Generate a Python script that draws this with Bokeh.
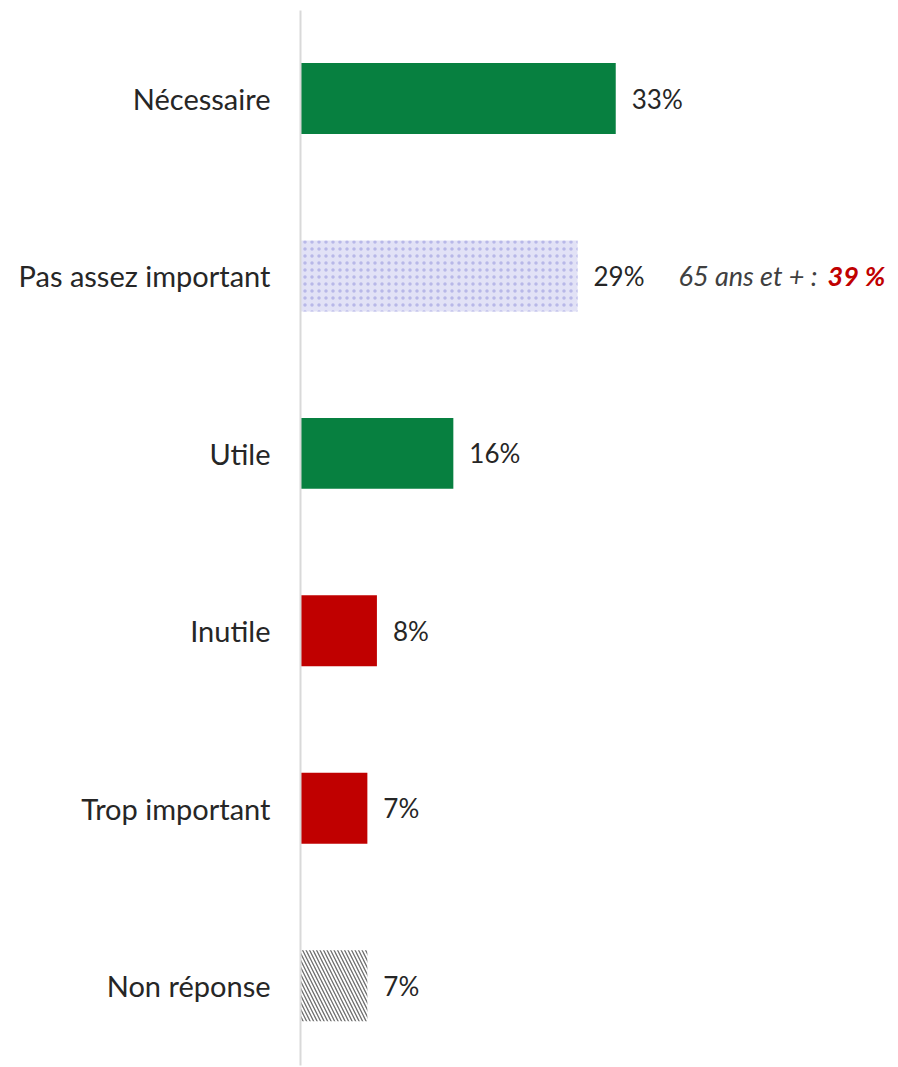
from bokeh.plotting import figure
from bokeh.models import Range1d, FixedTicker, ColumnDataSource
from bokeh.core.properties import value
from bokeh.embed import file_html
from bokeh.resources import INLINE

categories = ["Nécessaire", "Pas assez important", "Utile", "Inutile", "Trop important", "Non réponse"]
values = [33, 29, 16, 8, 7, 7]
labels = ["33%", "29%", "16%", "8%", "7%", "7%"]
colors = ["#078040", "#e2e2f6", "#078040", "#c00000", "#c00000", "#ffffff"]
hatches = [" ", "dot", " ", " ", " ", "left_diagonal_line"]
hatch_colors = ["#078040", "#b8b8e8", "#078040", "#c00000", "#c00000", "#6e6e6e"]
note_prefix = "65 ans et + :"
note_value = "39 %"
note_index = 1

idx = list(range(len(categories)))
src = ColumnDataSource(dict(y=idx, v=values, lab=labels, c=colors, h=hatches, hc=hatch_colors))

FONT = "Lato"

p = figure(width=898, height=1066, output_backend="svg", toolbar_location=None,
           x_range=Range1d(0, 62.6), y_range=Range1d(5.45, -0.496),
           x_axis_location=None, min_border_left=300, min_border_right=0,
           min_border_top=10, min_border_bottom=1)
p.outline_line_color = None
p.grid.visible = False
p.background_fill_color = "white"
p.border_fill_color = "white"

p.hbar(y="y", left=0, right="v", height=0.4, fill_color="c", line_color=None,
       hatch_pattern="h", hatch_color="hc", hatch_scale=7, hatch_weight=1.3, source=src)

p.text(x="v", y="y", text="lab", x_offset=16, text_baseline="middle", text_align="left",
       text_font=value(FONT), text_font_size="26px", text_color="#262626", source=src)

p.text(x=[values[note_index]], y=[note_index], text=[note_prefix], x_offset=240,
       text_align="right", text_baseline="middle", text_font=value(FONT),
       text_font_style="italic", text_font_size="27px", text_color="#404040")
p.text(x=[values[note_index]], y=[note_index], text=[note_value], x_offset=250,
       text_align="left", text_baseline="middle", text_font=value(FONT),
       text_font_style="bold italic", text_font_size="27px", text_color="#c00000")

ax = p.yaxis[0]
ax.ticker = FixedTicker(ticks=idx)
ax.major_label_overrides = {i: c for i, c in zip(idx, categories)}
ax.major_tick_line_color = None
ax.minor_tick_line_color = None
ax.axis_line_color = "#d9d9d9"
ax.axis_line_width = 2
ax.major_label_standoff = 24
ax.major_label_text_font = FONT
ax.major_label_text_font_size = "29px"
ax.major_label_text_color = "#262626"

open("out.html", "w").write(file_html(p, INLINE))
